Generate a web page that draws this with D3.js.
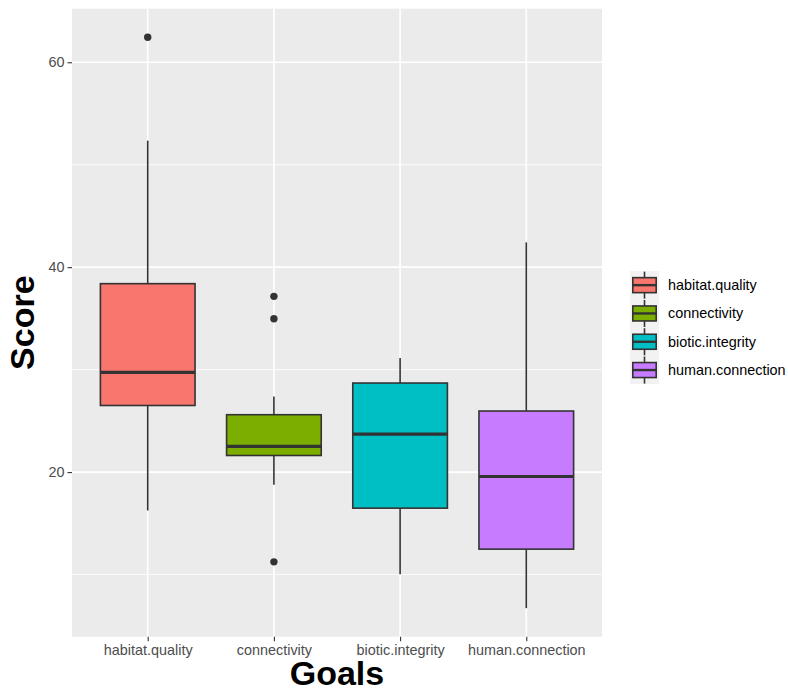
<!DOCTYPE html>
<html>
<head>
<meta charset="utf-8">
<script src="https://cdn.jsdelivr.net/npm/d3@7"></script>
<style>
  html, body { margin: 0; padding: 0; background: #ffffff; }
  svg { display: block; font-family: "Liberation Sans", Arial, Helvetica, sans-serif; }
</style>
</head>
<body>
<svg id="chart" width="788" height="693"></svg>
<script>
// Score summaries per goal (box-and-whisker statistics)
const goals       = ["habitat.quality", "connectivity", "biotic.integrity", "human.connection"];
const whiskerLow  = [16.25, 18.76, 10.04, 6.72];
const q1          = [26.5, 21.62, 16.48, 12.48];
const median      = [29.73, 22.5, 23.71, 19.57];
const q3          = [38.39, 25.6, 28.69, 25.96];
const whiskerHigh = [52.35, 27.38, 31.13, 42.42];
const outliers    = [[62.44], [37.15, 34.97, 11.24], [], []];
const fills       = ["#F8766D", "#7CAE00", "#00BFC4", "#C77CFF"];
const yTicks      = [20, 40, 60];
const yMinor      = [10, 30, 50];

const svg = d3.select("#chart");
const panel = { left: 72, right: 602, top: 8.7, bottom: 636.7 };

// y domain: data range with 5% expansion on both ends
const allVals = whiskerLow.concat(whiskerHigh, outliers.flat());
const lo = d3.min(allVals), hi = d3.max(allVals), pad = (hi - lo) * 0.05;
const y = d3.scaleLinear().domain([lo - pad, hi + pad]).range([panel.bottom, panel.top]);

// discrete x with 0.6 expansion on each side
const x = d3.scalePoint().domain(goals).range([panel.left, panel.right]).padding(0.6);
const step = x.step();
const boxW = step * 0.75;

// panel background and grid
const g = svg.append("g");
g.append("rect").attr("x", panel.left).attr("y", panel.top)
  .attr("width", panel.right - panel.left).attr("height", panel.bottom - panel.top)
  .attr("fill", "#ebebeb");

g.selectAll("line.minor").data(yMinor).join("line")
  .attr("x1", panel.left).attr("x2", panel.right)
  .attr("y1", d => y(d)).attr("y2", d => y(d))
  .attr("stroke", "#ffffff").attr("stroke-width", 0.85);
g.selectAll("line.majory").data(yTicks).join("line")
  .attr("x1", panel.left).attr("x2", panel.right)
  .attr("y1", d => y(d)).attr("y2", d => y(d))
  .attr("stroke", "#ffffff").attr("stroke-width", 1.7);
g.selectAll("line.majorx").data(goals).join("line")
  .attr("y1", panel.top).attr("y2", panel.bottom)
  .attr("x1", d => x(d)).attr("x2", d => x(d))
  .attr("stroke", "#ffffff").attr("stroke-width", 1.7);

// axes
const yAxis = d3.axisLeft(y).tickValues(yTicks).tickSize(4.5).tickPadding(3);
const ya = svg.append("g").attr("transform", `translate(${panel.left},0)`).call(yAxis);
const xAxis = d3.axisBottom(x).tickSize(4.5).tickPadding(3);
const xa = svg.append("g").attr("transform", `translate(0,${panel.bottom})`).call(xAxis);
[ya, xa].forEach(a => {
  a.select(".domain").remove();
  a.selectAll(".tick line").attr("stroke", "#333333").attr("stroke-width", 1.1);
  a.selectAll(".tick text").attr("fill", "#4d4d4d").style("font-size", "14.4px")
    .style("font-family", "'Liberation Sans', Arial, sans-serif");
});
xa.selectAll(".tick text").attr("dy", "0.75em");

// boxes
const idx = d3.range(goals.length);
const bx = svg.append("g");
bx.selectAll("line.wl").data(idx).join("line")
  .attr("x1", i => x(goals[i])).attr("x2", i => x(goals[i]))
  .attr("y1", i => y(whiskerLow[i])).attr("y2", i => y(q1[i]))
  .attr("stroke", "#333333").attr("stroke-width", 1.6);
bx.selectAll("line.wh").data(idx).join("line")
  .attr("x1", i => x(goals[i])).attr("x2", i => x(goals[i]))
  .attr("y1", i => y(whiskerHigh[i])).attr("y2", i => y(q3[i]))
  .attr("stroke", "#333333").attr("stroke-width", 1.6);
bx.selectAll("rect").data(idx).join("rect")
  .attr("x", i => x(goals[i]) - boxW / 2).attr("width", boxW)
  .attr("y", i => y(q3[i])).attr("height", i => y(q1[i]) - y(q3[i]))
  .attr("fill", i => fills[i]).attr("stroke", "#333333").attr("stroke-width", 1.6);
bx.selectAll("line.med").data(idx).join("line")
  .attr("x1", i => x(goals[i]) - boxW / 2).attr("x2", i => x(goals[i]) + boxW / 2)
  .attr("y1", i => y(median[i])).attr("y2", i => y(median[i]))
  .attr("stroke", "#333333").attr("stroke-width", 3.2);

const pts = idx.flatMap(i => outliers[i].map(v => ({ goal: goals[i], v })));
bx.selectAll("circle").data(pts).join("circle")
  .attr("cx", d => x(d.goal)).attr("cy", d => y(d.v)).attr("r", 3.7)
  .attr("fill", "#333333");

// axis titles
svg.append("text").attr("x", (panel.left + panel.right) / 2).attr("y", 685)
  .attr("text-anchor", "middle").attr("font-weight", "bold").style("font-size", "34px")
  .attr("fill", "#000000").text("Goals");
svg.append("text").attr("transform", `translate(34,${(panel.top + panel.bottom) / 2}) rotate(-90)`)
  .attr("text-anchor", "middle").attr("font-weight", "bold").style("font-size", "34px")
  .attr("fill", "#000000").text("Score");

// legend
const keyH = 28.3, keyW = 29, lx = 630, ly0 = 271;
const leg = svg.append("g");
leg.append("rect").attr("x", lx).attr("y", ly0).attr("width", keyW).attr("height", keyH * goals.length)
  .attr("fill", "#f2f2f2");
idx.forEach(i => {
  const cy = ly0 + keyH * i + keyH / 2;
  const cx = lx + keyW / 2;
  const k = leg.append("g");
  k.append("line").attr("x1", cx).attr("x2", cx).attr("y1", cy - 13.5).attr("y2", cy + 13.5)
    .attr("stroke", "#333333").attr("stroke-width", 1.6);
  k.append("rect").attr("x", lx + 2.8).attr("y", cy - 7.5).attr("width", keyW - 5.6).attr("height", 15)
    .attr("fill", fills[i]).attr("stroke", "#333333").attr("stroke-width", 1.6);
  k.append("line").attr("x1", lx + 2.8).attr("x2", lx + keyW - 2.8).attr("y1", cy).attr("y2", cy)
    .attr("stroke", "#333333").attr("stroke-width", 2.4);
  k.append("text").attr("x", 668).attr("y", cy).attr("dy", "0.35em")
    .style("font-size", "14.4px").attr("fill", "#000000").text(goals[i]);
});
</script>
</body>
</html>
